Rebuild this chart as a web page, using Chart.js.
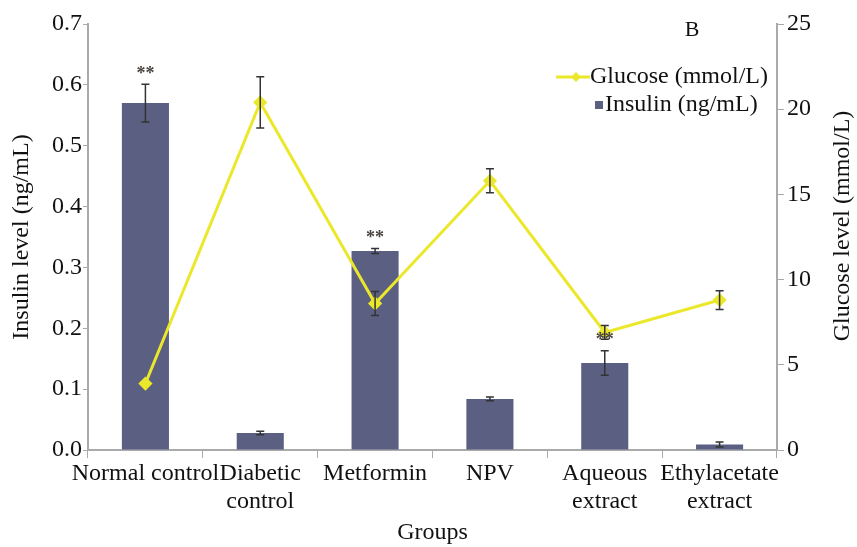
<!DOCTYPE html>
<html><head><meta charset="utf-8">
<script src="https://cdn.jsdelivr.net/npm/chart.js@4/dist/chart.umd.min.js"></script>
<style>html,body{margin:0;padding:0;background:#fff}#wrap{width:857px;height:547px}</style>
</head><body><div id="wrap"><canvas id="c" width="857" height="547"></canvas></div>
<script>
const categories = ["Normal control", ["Diabetic","control"], "Metformin", "NPV", ["Aqueous","extract"], ["Ethylacetate","extract"]];
const insulin = [0.57, 0.028, 0.327, 0.084, 0.143, 0.009];
const insulinErr = [0.031, 0.003, 0.004, 0.003, 0.02, 0.004];
const glucose = [3.9, 20.4, 8.6, 15.8, 6.9, 8.8];
const glucoseErr = [0, 1.5, 0.7, 0.7, 0.4, 0.55];
const significance = ["**", "", "**", "", "**", ""];
const leftTicks = [0.0, 0.1, 0.2, 0.3, 0.4, 0.5, 0.6, 0.7];
const rightTicks = [0, 5, 10, 15, 20, 25];
const xTitle = 'Groups';
const yTitle = 'Insulin level (ng/mL)';
const y1Title = 'Glucose level (mmol/L)';
const panelLetter = 'B';

const FONT = "'Liberation Serif', 'Times New Roman', serif";
const BAR = '#5b6083';
const LINE = '#ebe82c';

const extras = {
  id: 'extras',
  afterDatasetsDraw(chart) {
    const ctx = chart.ctx;
    const x = chart.scales.x, y = chart.scales.y, y1 = chart.scales.y1;
    const area = chart.chartArea;
    ctx.save();
    ctx.strokeStyle = '#333';
    ctx.lineWidth = 1.5;
    const cap = 4;
    function eb(px, lo, hi) {
      ctx.beginPath();
      ctx.moveTo(px, lo); ctx.lineTo(px, hi);
      ctx.moveTo(px - cap, lo); ctx.lineTo(px + cap, lo);
      ctx.moveTo(px - cap, hi); ctx.lineTo(px + cap, hi);
      ctx.stroke();
    }
    insulin.forEach((v, i) => {
      const px = x.getPixelForValue(i);
      eb(px, y.getPixelForValue(v - insulinErr[i]), y.getPixelForValue(v + insulinErr[i]));
    });
    glucose.forEach((v, i) => {
      if (!glucoseErr[i]) return;
      const px = x.getPixelForValue(i);
      eb(px, y1.getPixelForValue(v - glucoseErr[i]), y1.getPixelForValue(v + glucoseErr[i]));
    });
    // significance marks
    ctx.fillStyle = '#4a4440';
    ctx.font = 'bold 18px ' + FONT;
    ctx.textAlign = 'center';
    ctx.textBaseline = 'middle';
    significance.forEach((s, i) => {
      if (!s) return;
      const px = x.getPixelForValue(i);
      ctx.fillText(s, px, y.getPixelForValue(insulin[i] + insulinErr[i]) - 10);
    });
    // panel letter
    ctx.fillStyle = '#111';
    ctx.font = '22px ' + FONT;
    ctx.fillText(panelLetter, 692, 30);
    // axis titles
    ctx.font = '24px ' + FONT;
    ctx.fillText(xTitle, (area.left + area.right) / 2, 533);
    ctx.save();
    ctx.translate(22, (area.top + area.bottom) / 2);
    ctx.rotate(-Math.PI / 2);
    ctx.fillText(yTitle, 0, 0);
    ctx.restore();
    ctx.save();
    ctx.translate(843, 226);
    ctx.rotate(-Math.PI / 2);
    ctx.fillText(y1Title, 0, 0);
    ctx.restore();
    // legend
    const lx = 556, ly1 = 77, ly2 = 105;
    ctx.strokeStyle = LINE; ctx.lineWidth = 3;
    ctx.beginPath(); ctx.moveTo(lx, ly1); ctx.lineTo(lx + 34, ly1); ctx.stroke();
    ctx.fillStyle = LINE;
    ctx.beginPath();
    ctx.moveTo(lx + 20, ly1 - 5); ctx.lineTo(lx + 25, ly1); ctx.lineTo(lx + 20, ly1 + 5); ctx.lineTo(lx + 15, ly1);
    ctx.closePath(); ctx.fill();
    ctx.fillStyle = BAR;
    ctx.fillRect(lx + 39, ly2 - 4, 8, 8);
    ctx.fillStyle = '#111';
    ctx.font = '24px ' + FONT;
    ctx.textAlign = 'left';
    ctx.fillText('Glucose (mmol/L)', lx + 34, ly1);
    ctx.fillText('Insulin (ng/mL)', lx + 49, ly2);
    ctx.restore();
  }
};

new Chart(document.getElementById('c'), {
  data: {
    labels: categories,
    datasets: [
      { type: 'line', label: 'Glucose (mmol/L)', data: glucose, yAxisID: 'y1', order: 0,
        borderColor: LINE, backgroundColor: LINE, borderWidth: 3,
        pointStyle: 'rectRot', pointRadius: 5, pointHoverRadius: 5, tension: 0 },
      { type: 'bar', label: 'Insulin (ng/mL)', data: insulin, yAxisID: 'y', order: 1,
        backgroundColor: BAR, categoryPercentage: 1, barPercentage: 0.41 }
    ]
  },
  options: {
    responsive: false, animation: false,
    layout: { padding: { top: 24, left: 0, right: 0, bottom: 0 } },
    plugins: { legend: { display: false }, tooltip: { enabled: false } },
    scales: {
      x: {
        offset: true,
        afterFit(s) { s.height = 97; },
        grid: { display: true, drawOnChartArea: false, offset: true, color: '#aaa', tickLength: 8 },
        border: { color: '#aaa', width: 2 },
        ticks: { color: '#111', font: { family: FONT, size: 24, lineHeight: 1.15 }, maxRotation: 0, autoSkip: false, padding: 2 }
      },
      y: {
        position: 'left', min: 0, max: 0.7,
        afterBuildTicks(s) { s.ticks = leftTicks.map(v => ({ value: v })); },
        afterFit(s) { s.width = 88; },
        grid: { display: true, drawOnChartArea: false, color: '#aaa', tickLength: 5 },
        border: { color: '#aaa', width: 2 },
        ticks: { color: '#111', font: { family: FONT, size: 24 }, padding: 1, callback: v => v.toFixed(1) }
      },
      y1: {
        position: 'right', min: 0, max: 25,
        afterBuildTicks(s) { s.ticks = rightTicks.map(v => ({ value: v })); },
        afterFit(s) { s.width = 80; },
        grid: { display: true, drawOnChartArea: false, color: '#aaa', tickLength: 7 },
        border: { color: '#aaa', width: 2 },
        ticks: { color: '#111', font: { family: FONT, size: 24 }, padding: 3 }
      }
    }
  },
  plugins: [extras]
});
</script>
</body></html>
